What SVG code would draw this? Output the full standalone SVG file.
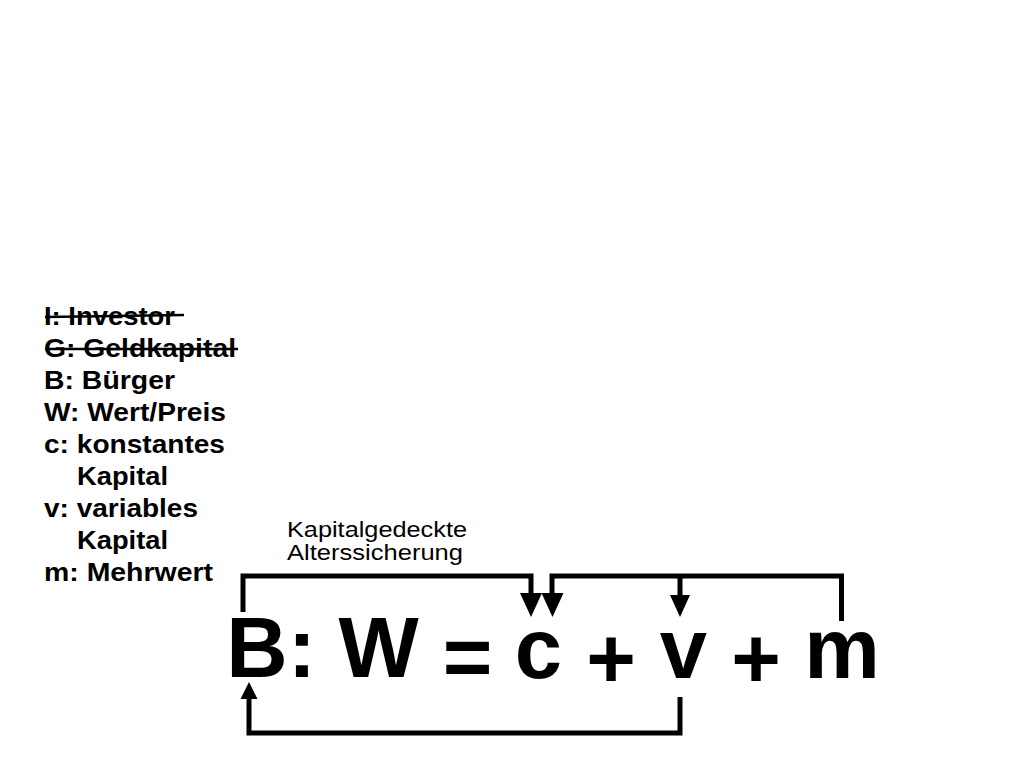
<svg xmlns="http://www.w3.org/2000/svg" width="1024" height="768" viewBox="0 0 1024 768">
<style>
.leg{font-family:"Liberation Sans",Arial,sans-serif;font-weight:bold;font-size:25px;fill:#000}
.eq{font-family:"Liberation Sans",Arial,sans-serif;font-weight:bold;font-size:85px;fill:#000;text-anchor:middle}
.lbl{font-family:"Liberation Sans",Arial,sans-serif;font-size:22px;fill:#000}
.ln{fill:none;stroke:#000;stroke-width:5;stroke-linejoin:miter}
.strike{stroke:#000;stroke-width:2.5}
.ah{fill:#000}
</style>
<rect width="1024" height="768" fill="#fff"/>
<g id="legend">
<text class="leg" x="44" y="325" textLength="131" lengthAdjust="spacingAndGlyphs">I: Investor</text>
<line class="strike" x1="45" y1="317" x2="184" y2="315"/>
<text class="leg" x="44" y="357" textLength="192" lengthAdjust="spacingAndGlyphs">G: Geldkapital</text>
<line class="strike" x1="45" y1="349" x2="238" y2="349"/>
<text class="leg" x="44" y="389" textLength="131" lengthAdjust="spacingAndGlyphs">B: Bürger</text>
<text class="leg" x="44" y="421" textLength="182" lengthAdjust="spacingAndGlyphs">W: Wert/Preis</text>
<text class="leg" x="44" y="453" textLength="181" lengthAdjust="spacingAndGlyphs">c: konstantes</text>
<text class="leg" x="77" y="485" textLength="91" lengthAdjust="spacingAndGlyphs">Kapital</text>
<text class="leg" x="44" y="517" textLength="154" lengthAdjust="spacingAndGlyphs">v: variables</text>
<text class="leg" x="77" y="549" textLength="91" lengthAdjust="spacingAndGlyphs">Kapital</text>
<text class="leg" x="44" y="581" textLength="169" lengthAdjust="spacingAndGlyphs">m: Mehrwert</text>
</g>
<g id="label-kapitalgedeckte">
<text class="lbl"><tspan x="287" y="537" textLength="180" lengthAdjust="spacingAndGlyphs">Kapitalgedeckte</tspan><tspan x="287" y="560" textLength="176" lengthAdjust="spacingAndGlyphs">Alterssicherung</tspan></text>
</g>
<g id="node-B"><text class="eq" x="257" y="677">B</text></g>
<g id="node-colon"><text class="eq" x="302" y="677">:</text></g>
<g id="node-W"><text class="eq" x="378.5" y="677">W</text></g>
<g id="node-eq"><text class="eq" x="467.5" y="686">=</text></g>
<g id="node-c"><text class="eq" x="538.5" y="678">c</text></g>
<g id="node-plus1"><text class="eq" x="611" y="688">+</text></g>
<g id="node-v"><text class="eq" x="683.5" y="678">v</text></g>
<g id="node-plus2"><text class="eq" x="756" y="688">+</text></g>
<g id="node-m"><text class="eq" x="842" y="678">m</text></g>
<g id="connectors">
<path class="ln" d="M243,612 V576 H531 V595"/>
<polygon class="ah" points="520,593 542,593 531,617"/>
<path class="ln" d="M552,595 V576 H841.5 V621"/>
<polygon class="ah" points="541.5,593 563.5,593 552.5,617"/>
<path class="ln" d="M680,576 V597"/>
<polygon class="ah" points="670,595 690,595 680,617"/>
<path class="ln" d="M680,697 V733 H249 V698"/>
<polygon class="ah" points="240.5,699 257.5,699 249,682"/>
</g>
</svg>
